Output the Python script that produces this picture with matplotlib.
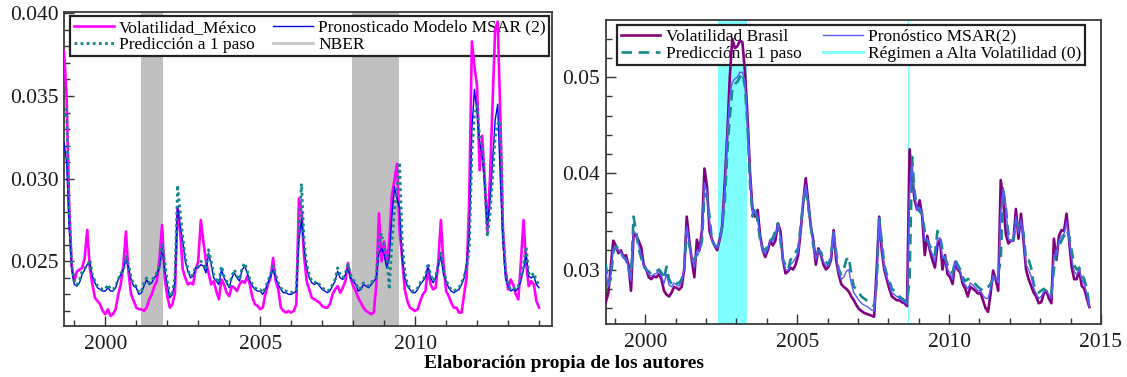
import numpy as np
import matplotlib
matplotlib.use("Agg")
import matplotlib.pyplot as plt
from matplotlib.ticker import MultipleLocator, FormatStrFormatter

plt.rcParams['font.family'] = ['Liberation Serif', 'DejaVu Serif']

# ---------------- data: Mexico (monthly, Sep 1998 - Jan 2014) ----------------
mex_start = 1998.667
mex_vol = [
    .0377, .0350, .0283, .0247,
    .0238, .0244, .0245, .0246, .0252, .0269, .0246, .0236, .0228, .0226, .0224, .0220,
    .0218, .0221, .0217, .0218, .0221, .0230, .0236, .0248, .0268, .0243, .0230, .0226,
    .0222, .0221, .0221, .0220, .0222, .0227, .0230, .0235, .0238, .0252, .0272, .0240,
    .0229, .0222, .0224, .0231, .0283, .0268, .0245, .0240, .0236, .0237, .0236, .0245,
    .0250, .0275, .0262, .0250, .0243, .0236, .0238, .0232, .0227, .0239, .0236, .0231,
    .0229, .0235, .0234, .0232, .0236, .0238, .0237, .0241, .0236, .0228, .0224, .0223,
    .0221, .0222, .0230, .0236, .0240, .0252, .0238, .0233, .0222, .0220, .0219, .0220,
    .0219, .0220, .0224, .0288, .0280, .0253, .0238, .0233, .0228, .0227, .0226, .0225,
    .0223, .0222, .0222, .0224, .0230, .0233, .0235, .0231, .0234, .0238, .0249, .0240,
    .0235, .0232, .0228, .0225, .0222, .0220, .0219, .0218, .0219, .0236, .0279, .0250,
    .0262, .0249, .0262, .0290, .0299, .0309, .0268, .0252, .0233, .0226, .0222, .0221,
    .0220, .0221, .0226, .0230, .0232, .0246, .0236, .0233, .0234, .0250, .0275, .0249,
    .0232, .0229, .0225, .0222, .0222, .0219, .0219, .0230, .0241, .0290, .0383, .0368,
    .0356, .0305, .0326, .0298, .0268, .0300, .0345, .0390, .0395, .0340, .0270, .0245,
    .0233, .0239, .0236, .0230, .0227, .0250, .0275, .0249, .0235, .0238, .0236, .0226,
    .0222,
]
mex_msar = [
    .0322, .0310, .0270, .0245,
    .0236, .0235, .0237, .0242, .0245, .0248, .0249, .0241, .0237, .0234, .0233, .0232,
    .0232, .0234, .0232, .0232, .0234, .0239, .0242, .0245, .0251, .0246, .0239, .0235,
    .0234, .0230, .0231, .0235, .0239, .0236, .0237, .0240, .0242, .0246, .0258, .0245,
    .0236, .0228, .0230, .0238, .0283, .0272, .0262, .0250, .0244, .0240, .0241, .0246,
    .0246, .0248, .0247, .0243, .0255, .0248, .0240, .0238, .0236, .0245, .0240, .0237,
    .0234, .0240, .0243, .0240, .0238, .0245, .0247, .0243, .0238, .0235, .0233, .0232,
    .0232, .0230, .0233, .0237, .0241, .0245, .0240, .0236, .0233, .0231, .0231, .0230,
    .0230, .0231, .0232, .0262, .0276, .0258, .0246, .0240, .0237, .0236, .0237, .0235,
    .0233, .0232, .0231, .0232, .0235, .0238, .0244, .0240, .0239, .0242, .0246, .0240,
    .0238, .0236, .0232, .0233, .0236, .0235, .0234, .0236, .0238, .0240, .0255, .0258,
    .0254, .0246, .0252, .0277, .0295, .0288, .0282, .0252, .0240, .0235, .0233, .0231,
    .0231, .0233, .0236, .0238, .0240, .0247, .0240, .0237, .0240, .0247, .0253, .0242,
    .0238, .0234, .0232, .0231, .0232, .0233, .0236, .0240, .0250, .0265, .0330, .0354,
    .0340, .0322, .0314, .0295, .0272, .0285, .0310, .0335, .0345, .0300, .0262, .0240,
    .0235, .0232, .0233, .0232, .0234, .0238, .0245, .0255, .0241, .0240, .0241, .0236,
    .0234,
]
mex_pred = [
    .0338, .0342, .0280, .0248,
    .0237, .0236, .0238, .0244, .0246, .0247, .0251, .0242, .0238, .0235, .0234, .0233,
    .0233, .0236, .0233, .0233, .0235, .0239, .0243, .0244, .0253, .0248, .0240, .0236,
    .0235, .0231, .0232, .0237, .0240, .0237, .0238, .0241, .0243, .0247, .0260, .0250,
    .0238, .0229, .0231, .0240, .0296, .0280, .0265, .0252, .0245, .0241, .0242, .0247,
    .0247, .0250, .0249, .0245, .0257, .0250, .0242, .0239, .0237, .0247, .0241, .0238,
    .0235, .0241, .0245, .0241, .0239, .0246, .0249, .0244, .0239, .0236, .0234, .0233,
    .0233, .0231, .0234, .0238, .0242, .0247, .0242, .0237, .0234, .0232, .0232, .0231,
    .0231, .0232, .0233, .0268, .0297, .0262, .0248, .0242, .0238, .0237, .0238, .0236,
    .0234, .0233, .0232, .0233, .0236, .0239, .0246, .0242, .0240, .0243, .0248, .0242,
    .0239, .0237, .0233, .0234, .0237, .0236, .0235, .0237, .0239, .0241, .0262, .0267,
    .0258, .0255, .0233, .0262, .0280, .0295, .0310, .0262, .0244, .0236, .0234, .0232,
    .0232, .0234, .0237, .0239, .0241, .0249, .0242, .0238, .0241, .0248, .0256, .0245,
    .0239, .0235, .0233, .0232, .0233, .0234, .0237, .0241, .0246, .0258, .0315, .0338,
    .0344, .0325, .0318, .0300, .0265, .0278, .0300, .0325, .0333, .0335, .0270, .0245,
    .0236, .0233, .0234, .0233, .0235, .0240, .0248, .0259, .0243, .0241, .0243, .0238,
    .0236,
]
nber_periods = [(2001.15, 2001.86), (2007.95, 2009.48)]

# ---------------- data: Brazil (monthly, late 1998 - mid 2014) ----------------
bra_start = 1998.70
bra_vol = [
    .0266, .0275, .0303, .0330,
    .0325, .0317, .0320, .0313, .0315, .0305, .0278, .0337, .0335, .0330, .0323, .0305,
    .0300, .0292, .0290, .0293, .0292, .0295, .0290, .0278, .0274, .0272, .0276, .0282,
    .0281, .0279, .0282, .0300, .0355, .0330, .0310, .0292, .0331, .0320, .0340, .0405,
    .0386, .0340, .0331, .0325, .0320, .0331, .0345, .0390, .0440, .0500, .0540, .0530,
    .0532, .0538, .0536, .0505, .0460, .0400, .0362, .0355, .0362, .0335, .0320, .0313,
    .0320, .0330, .0325, .0330, .0348, .0340, .0310, .0296, .0298, .0302, .0300, .0305,
    .0315, .0340, .0370, .0395, .0370, .0345, .0330, .0305, .0322, .0315, .0305, .0300,
    .0303, .0310, .0341, .0310, .0295, .0285, .0282, .0280, .0277, .0272, .0268, .0263,
    .0259, .0257, .0255, .0254, .0253, .0252, .0251, .0300, .0355, .0320, .0300, .0290,
    .0280, .0272, .0270, .0268, .0268, .0266, .0265, .0262, .0425, .0396, .0372, .0362,
    .0372, .0355, .0315, .0335, .0320, .0310, .0302, .0325, .0331, .0300, .0315, .0295,
    .0292, .0285, .0308, .0300, .0297, .0285, .0280, .0272, .0282, .0280, .0278, .0275,
    .0276, .0268, .0260, .0256, .0275, .0299, .0290, .0278, .0393, .0372, .0337, .0327,
    .0330, .0330, .0363, .0332, .0358, .0330, .0300, .0290, .0283, .0276, .0272, .0265,
    .0266, .0275, .0278, .0270, .0265, .0332, .0310, .0335, .0341, .0340, .0358, .0330,
    .0303, .0290, .0290, .0299, .0283, .0280, .0270, .0261,
]
bra_msar = [
    .0300, .0282, .0295, .0322,
    .0322, .0320, .0318, .0312, .0312, .0302, .0288, .0340, .0337, .0325, .0315, .0304,
    .0300, .0295, .0293, .0295, .0296, .0298, .0294, .0285, .0295, .0284, .0282, .0286,
    .0284, .0283, .0287, .0300, .0345, .0328, .0312, .0302, .0320, .0318, .0335, .0390,
    .0380, .0350, .0330, .0325, .0322, .0330, .0348, .0385, .0440, .0480, .0495, .0498,
    .0500, .0505, .0505, .0495, .0455, .0395, .0358, .0360, .0355, .0332, .0320, .0316,
    .0322, .0330, .0330, .0335, .0347, .0335, .0310, .0300, .0299, .0305, .0308, .0312,
    .0318, .0342, .0372, .0388, .0368, .0345, .0328, .0310, .0320, .0316, .0308, .0304,
    .0304, .0312, .0340, .0315, .0298, .0290, .0292, .0298, .0300, .0285, .0276, .0272,
    .0268, .0265, .0263, .0262, .0260, .0258, .0257, .0290, .0354, .0325, .0302, .0292,
    .0285, .0276, .0274, .0272, .0270, .0268, .0266, .0264, .0380, .0410, .0378, .0362,
    .0365, .0356, .0330, .0332, .0322, .0316, .0308, .0332, .0333, .0312, .0313, .0300,
    .0296, .0290, .0308, .0302, .0298, .0288, .0284, .0280, .0286, .0284, .0281, .0278,
    .0278, .0273, .0270, .0270, .0280, .0294, .0291, .0286, .0360, .0385, .0368, .0332,
    .0330, .0330, .0355, .0338, .0352, .0334, .0305, .0300, .0293, .0281, .0275, .0270,
    .0272, .0277, .0278, .0274, .0270, .0315, .0315, .0330, .0335, .0337, .0350, .0332,
    .0312, .0298, .0295, .0300, .0290, .0285, .0275, .0261,
]
bra_pred = [
    .0306, .0285, .0290, .0318,
    .0324, .0322, .0318, .0313, .0310, .0300, .0292, .0355, .0340, .0322, .0312, .0303,
    .0300, .0298, .0295, .0296, .0298, .0300, .0297, .0290, .0303, .0290, .0285, .0288,
    .0286, .0286, .0290, .0300, .0341, .0325, .0315, .0310, .0315, .0318, .0330, .0379,
    .0375, .0355, .0330, .0325, .0324, .0328, .0345, .0370, .0420, .0459, .0487, .0493,
    .0495, .0500, .0504, .0490, .0450, .0390, .0355, .0365, .0350, .0330, .0322, .0320,
    .0325, .0330, .0333, .0340, .0348, .0330, .0310, .0305, .0300, .0310, .0315, .0318,
    .0322, .0345, .0370, .0385, .0365, .0345, .0325, .0315, .0320, .0318, .0310, .0308,
    .0305, .0315, .0338, .0318, .0300, .0295, .0300, .0310, .0313, .0295, .0282, .0280,
    .0276, .0272, .0270, .0268, .0266, .0264, .0262, .0285, .0353, .0330, .0305, .0295,
    .0289, .0280, .0278, .0276, .0272, .0270, .0268, .0266, .0290, .0417, .0380, .0365,
    .0360, .0358, .0340, .0330, .0325, .0320, .0315, .0340, .0335, .0320, .0312, .0305,
    .0300, .0296, .0310, .0305, .0300, .0292, .0288, .0290, .0290, .0288, .0285, .0282,
    .0280, .0278, .0280, .0282, .0285, .0290, .0292, .0295, .0310, .0383, .0365, .0337,
    .0332, .0330, .0350, .0345, .0348, .0338, .0310, .0310, .0302, .0285, .0278, .0276,
    .0278, .0280, .0277, .0278, .0275, .0300, .0320, .0325, .0330, .0335, .0341, .0335,
    .0320, .0305, .0300, .0302, .0295, .0290, .0280, .0262,
]
high_vol_band = (2002.39, 2003.35)
high_vol_line = 2008.64

mex_labels = ["Volatilidad_México", "Predicción a 1 paso",
              "Pronosticado Modelo MSAR (2)", "NBER"]
bra_labels = ["Volatilidad Brasil", "Predicción a 1 paso",
              "Pronóstico MSAR(2)", "Régimen a Alta Volatilidad (0)"]
caption = "Elaboración propia de los autores"

mex_t = mex_start + np.arange(len(mex_vol)) / 12.0
bra_t = bra_start + np.arange(len(bra_vol)) / 12.0

W, H = 1127, 377
fig = plt.figure(figsize=(W / 100, H / 100), dpi=100)
fig.patch.set_facecolor("white")

ax1 = fig.add_axes([64.3 / W, (H - 326.3) / H, (552 - 64.3) / W, (326.3 - 12) / H])
ax2 = fig.add_axes([605.7 / W, (H - 324.3) / H, (1101 - 605.7) / W, (324.3 - 20) / H])

tick_kw = dict(direction="in", labelsize=15.5, colors="#333333", labelcolor="#1a1a1a")

# ---------------- left panel ----------------
for a, b in nber_periods:
    ax1.axvspan(a, b, color="#c0c0c0", lw=0, zorder=1)
l1, = ax1.plot(mex_t, mex_vol, color="#ff00ff", lw=1.9, zorder=3)
l2, = ax1.plot(mex_t, mex_msar, color="#0000ee", lw=1.0, zorder=4)
l3, = ax1.plot(mex_t, mex_pred, color="#11858a", lw=2.0, ls=(0, (1, 1.2)), zorder=5)
l4, = ax1.plot([], [], color="#c8c8c8", lw=2.0)
ax1.set_xlim(1998.677, 2014.42)
ax1.set_ylim(0.02107, 0.04008)
ax1.yaxis.set_major_locator(MultipleLocator(0.005))
ax1.yaxis.set_minor_locator(MultipleLocator(0.001))
ax1.yaxis.set_major_formatter(FormatStrFormatter("%.3f"))
leg1 = ax1.legend([l1, l3, l2, l4], [mex_labels[0], mex_labels[1], mex_labels[2], mex_labels[3]],
                  ncol=2, mode="expand", loc="upper left",
                  bbox_to_anchor=(0.012, 0.85, 0.982, 0.137), borderaxespad=0,
                  fontsize=12.5, handlelength=2.3, handletextpad=0.3, borderpad=0.2,
                  labelspacing=0.05, columnspacing=1.0, fancybox=False, framealpha=1,
                  edgecolor="#222222")
leg1.get_frame().set_linewidth(1.6)
leg1.set_zorder(2)

# ---------------- right panel ----------------
ax2.axvspan(high_vol_band[0], high_vol_band[1], color="#80ffff", lw=0, zorder=1)
ax2.axvline(high_vol_line, color="#80ffff", lw=1.0, zorder=1)
r1, = ax2.plot(bra_t, bra_vol, color="#800080", lw=1.9, zorder=3)
r3, = ax2.plot(bra_t, bra_pred, color="#168a8a", lw=1.9, ls=(0, (4, 2.5)), zorder=4)
r2, = ax2.plot(bra_t, bra_msar, color="#5a5aff", lw=1.0, zorder=5)
r4, = ax2.plot([], [], color="#80ffff", lw=2.0)
ax2.set_xlim(1998.70, 2015.0)
ax2.set_ylim(0.02431, 0.05593)
ax2.yaxis.set_major_locator(MultipleLocator(0.01))
ax2.yaxis.set_minor_locator(MultipleLocator(0.002))
ax2.yaxis.set_major_formatter(FormatStrFormatter("%.2f"))
leg2 = ax2.legend([r1, r3, r2, r4], [bra_labels[0], bra_labels[1], bra_labels[2], bra_labels[3]],
                  ncol=2, mode="expand", loc="upper left",
                  bbox_to_anchor=(0.023, 0.845, 0.945, 0.138), borderaxespad=0,
                  fontsize=12.5, handlelength=2.3, handletextpad=0.3, borderpad=0.2,
                  labelspacing=0.05, columnspacing=1.0, fancybox=False, framealpha=1,
                  edgecolor="#222222")
leg2.get_frame().set_linewidth(1.6)
leg2.set_zorder(2)

for ax in (ax1, ax2):
    ax.xaxis.set_major_locator(MultipleLocator(5))
    ax.xaxis.set_minor_locator(MultipleLocator(1))
    ax.xaxis.set_major_formatter(FormatStrFormatter("%d"))
    ax.tick_params(axis="both", which="major", length=7, width=1.0, **tick_kw)
    ax.tick_params(axis="both", which="minor", length=4, width=1.0, direction="in",
                   colors="#333333")
    ax.tick_params(axis="x", which="major", pad=6)
    ax.tick_params(axis="y", which="major", pad=4)
    ax.tick_params(top=False, right=False, which="both")
    for s in ax.spines.values():
        s.set_color("#3a3a3a")
        s.set_linewidth(1.3)

fig.text(0.5, 1 - 364 / H, caption, ha="center", va="center",
         fontsize=14, fontweight="bold", color="black")

fig.savefig("out.png", dpi=100)
